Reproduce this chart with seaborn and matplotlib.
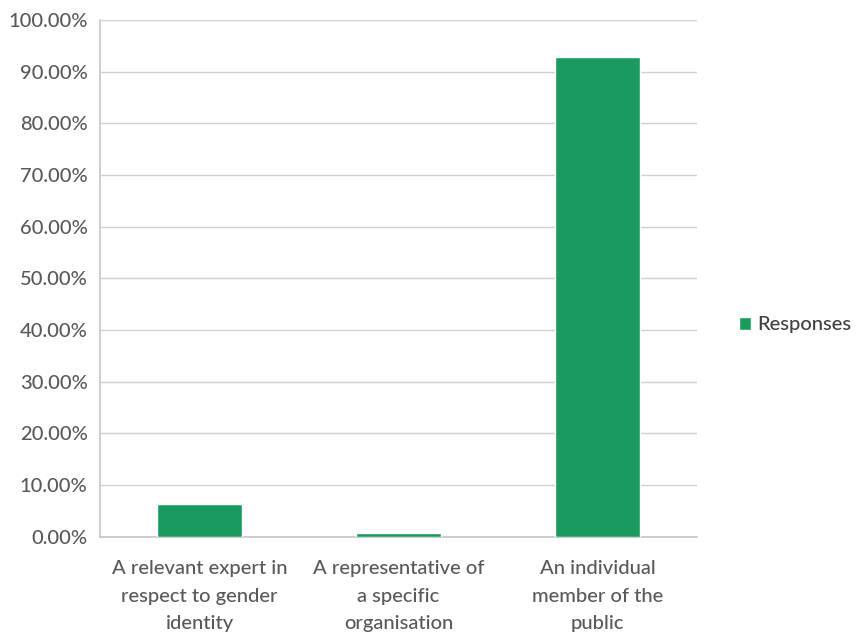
import matplotlib
matplotlib.use("Agg")
import matplotlib.pyplot as plt
import seaborn as sns
import pandas as pd
from matplotlib.ticker import PercentFormatter, FixedLocator

## data
categories = ["A relevant expert in\nrespect to gender\nidentity",
              "A representative of\na specific\norganisation",
              "An individual\nmember of the\npublic"]
responses = [6.3, 0.8, 92.9]
series_name = "Responses"

df = pd.DataFrame({"category": categories, "value": responses, "series": series_name})

sns.set_theme(style="white")
plt.rcParams['font.family'] = ['Lato', 'DejaVu Sans']

green = "#1a9a5e"
grey_text = "#595959"

fig = plt.figure(figsize=(8.58, 6.36), dpi=100)
ax = fig.add_axes([0.1166, 0.156, 0.6958, 0.8126])

sns.barplot(data=df, x="category", y="value", hue="series", palette=[green],
            width=0.43, ax=ax, saturation=1, zorder=3)

ax.set_ylim(0, 100)
ax.set_xlim(-0.5, 2.5)
ax.yaxis.set_major_locator(FixedLocator(range(0, 101, 10)))
ax.yaxis.set_major_formatter(PercentFormatter(decimals=2))
ax.grid(axis="y", color="#d0d0d0", linewidth=1, zorder=0)
ax.set_xlabel("")
ax.set_ylabel("")

for s in ["top", "right"]:
    ax.spines[s].set_visible(False)
ax.spines["left"].set_color("#c8c8c8")
ax.spines["bottom"].set_color("#c8c8c8")

ax.tick_params(axis="y", length=0, labelsize=14.5, labelcolor=grey_text, pad=9)
ax.tick_params(axis="x", length=0, labelsize=14.5, labelcolor=grey_text, pad=17)
# minor ticks at the category boundaries
ax.set_xticks([-0.5, 0.5, 1.5, 2.5], minor=True)
ax.tick_params(axis="x", which="minor", length=5, color="#c8c8c8", direction="out")

leg = ax.legend(loc="center left", bbox_to_anchor=(1.04, 0.41), frameon=False,
                fontsize=14.5, handlelength=0.6, handleheight=0.6, handletextpad=0.3)
for t in leg.get_texts():
    t.set_color("#404040")
    t.set_fontweight("medium")

fig.canvas.draw()
for tick in ax.xaxis.get_major_ticks():
    tick.label1.set_linespacing(1.75)
    tick.label1.set_fontweight("medium")
for tick in ax.yaxis.get_major_ticks():
    tick.label1.set_fontweight("medium")

fig.savefig("out.png", dpi=100)
